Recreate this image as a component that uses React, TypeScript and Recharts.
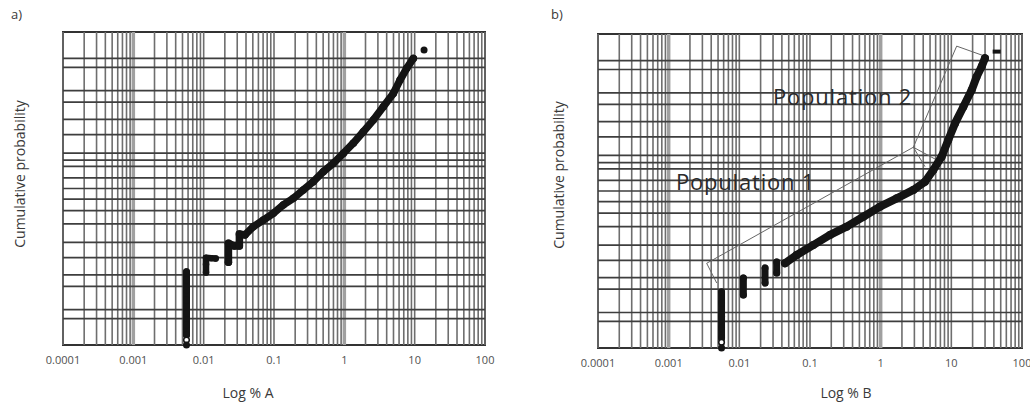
import React from 'react'
import { ComposedChart, Scatter, XAxis, YAxis, ReferenceLine, ReferenceArea } from 'recharts'

type Row = [number, number] // [value %, cumulative probability %]

// log x axis
const DECADES = [0.0001, 0.001, 0.01, 0.1, 1, 10, 100]
const DECADE_LABELS = ['0.0001', '0.001', '0.01', '0.1', '1', '10', '100']
const MANTISSAS = [2, 3, 4, 5, 6, 7, 8, 9]
const HEAVY_DECADES = [0.001, 1]

// probability grid (%)
const PROB_LINES = [0.1, 0.2, 1, 2, 5, 10, 20, 30, 40, 50, 60, 70, 75, 80, 90, 95, 98, 99, 99.8, 99.9]

// panel a
const A_DETECTION: Row[] = [[0.0057, 2.4], [0.0057, 1.5], [0.0057, 0.8], [0.0057, 0.4], [0.0057, 0.15], [0.0057, 0.06], [0.0057, 0.025]]
const A_STEP: Row[] = [[0.0108, 2.3], [0.0108, 3.6], [0.0108, 5.0], [0.0128, 4.9], [0.0148, 4.8]]
const A_CURVE: Row[] = [
  [0.0225, 4.0], [0.0225, 9.7], [0.027, 8.6], [0.0322, 8.6], [0.0322, 14.0], [0.0387, 13.5],
  [0.0508, 18.2], [0.0705, 22.7], [0.0977, 27.8], [0.1355, 34.8], [0.188, 40.8], [0.261, 48.6],
  [0.362, 56.4], [0.502, 65.5], [0.697, 72.5], [0.967, 79.8], [1.34, 85.9], [1.86, 91.1],
  [2.58, 94.8], [3.58, 97.4], [4.97, 98.8], [6.19, 99.5], [7.7, 99.785], [9.57, 99.9],
]
const A_OPEN: Row[] = [[0.0057, 0.016]]
const A_LOWEST: Row[] = [[0.0057, 0.01]]
const A_HIGHEST: Row[] = [[13.6, 99.95]]

// panel b
const B_DETECTION: Row[] = [[0.0056, 0.84], [0.0056, 0.4], [0.0056, 0.15], [0.0056, 0.06], [0.0056, 0.025]]
const B_STEP1: Row[] = [[0.0114, 0.69], [0.0114, 1.96]]
const B_STEP2: Row[] = [[0.0231, 1.46], [0.0231, 3.4]]
const B_STEP3: Row[] = [[0.0338, 2.6], [0.0338, 4.63]]
const B_CURVE: Row[] = [
  [0.0443, 4.34], [0.0648, 6.47], [0.111, 10.0], [0.192, 14.9], [0.33, 19.9], [0.568, 27.1],
  [0.977, 35.5], [1.69, 43.1], [2.9, 51.0], [4.24, 58.7], [5.56, 69.1], [7.29, 79.2],
  [9.06, 88.7], [11.3, 94.6], [14.8, 97.7], [19.4, 99.16], [22.8, 99.66], [26.9, 99.84], [29.9, 99.917],
]
const B_OPEN: Row[] = [[0.0056, 0.017]]
const B_LOWEST: Row[] = [[0.0056, 0.01]]
const B_HIGHEST: Row[] = [[43.8, 99.952]]
const B_POP1_OUTLINE: Row[] = [[0.00479, 1.46], [0.00345, 4.34], [2.9, 85.0], [4.24, 71.8]]
const B_POP2_OUTLINE: Row[] = [[6.21, 76.9], [2.9, 85.0], [11.9, 99.97], [31.6, 99.926]]

const FONT = '"Open Sans", "Noto Sans", sans-serif'
const INK = '#141414'

// inverse normal CDF (Acklam), takes a percentage
function probit(pct: number) {
  const p = pct / 100
  const a = [-39.69683028665376, 220.9460984245205, -275.9285104469687, 138.357751867269, -30.66479806614716, 2.506628277459239]
  const b = [-54.47609879822406, 161.5858368580409, -155.6989798598866, 66.80131188771972, -13.28068155288572]
  const c = [-0.007784894002430293, -0.3223964580411365, -2.400758277161838, -2.549671664352960, 4.374664141464968, 2.938163982698783]
  const d = [0.007784695709041462, 0.3224671290700398, 2.445134137142996, 3.754408661907416]
  const lo = 0.02425
  if (p < lo) {
    const q = Math.sqrt(-2 * Math.log(p))
    return (((((c[0] * q + c[1]) * q + c[2]) * q + c[3]) * q + c[4]) * q + c[5]) / ((((d[0] * q + d[1]) * q + d[2]) * q + d[3]) * q + 1)
  }
  if (p > 1 - lo) {
    const q = Math.sqrt(-2 * Math.log(1 - p))
    return -(((((c[0] * q + c[1]) * q + c[2]) * q + c[3]) * q + c[4]) * q + c[5]) / ((((d[0] * q + d[1]) * q + d[2]) * q + d[3]) * q + 1)
  }
  const q = p - 0.5
  const r = q * q
  return ((((((a[0] * r + a[1]) * r + a[2]) * r + a[3]) * r + a[4]) * r + a[5]) * q) / (((((b[0] * r + b[1]) * r + b[2]) * r + b[3]) * r + b[4]) * r + 1)
}

const Z_MAX = probit(99.99)
const X_GRID = DECADES.slice(0, -1).flatMap(d => MANTISSAS.map(m => m * d)).concat(DECADES)

const pts = (rows: Row[]) => rows.map(([x, p]) => ({ x, z: probit(p) }))

const dot = (r: number) => (props: any) => <circle cx={props.cx} cy={props.cy} r={r} fill={INK} />
const openDot = (props: any) => <circle cx={props.cx} cy={props.cy} r={2.8} fill="#fff" stroke={INK} strokeWidth={1.5} />
const dash = (props: any) => <rect x={props.cx - 4} y={props.cy - 2} width={8} height={4} fill={INK} />
const none = () => <g />

function Panel({ width, margin, strips, open, lowest, highest, highShape, outlines }: any) {
  return (
    <ComposedChart width={width} height={402} margin={margin}>
      <XAxis
        dataKey="x"
        type="number"
        scale="log"
        domain={[0.0001, 100]}
        ticks={DECADES}
        interval={0}
        tickFormatter={(v: number) => DECADE_LABELS[DECADES.indexOf(v)] ?? ''}
        tickLine={false}
        axisLine={false}
        tickMargin={5}
        height={30}
        tick={{ fill: '#505050', fontSize: 11, fontFamily: FONT }}
      />
      <YAxis dataKey="z" type="number" domain={[-Z_MAX, Z_MAX]} hide />
      {X_GRID.map(v => (
        <ReferenceLine key={'x' + v} x={v} stroke="#6e6e6e" strokeWidth={1.6} />
      ))}
      {HEAVY_DECADES.map(v => (
        <ReferenceLine key={'h' + v} x={v} stroke="#a0a0a0" strokeWidth={3.5} />
      ))}
      {PROB_LINES.map(p => (
        <ReferenceLine key={'y' + p} y={probit(p)} stroke="#3e3e3e" strokeWidth={1.7} />
      ))}
      <ReferenceArea x1={0.0001} x2={100} y1={-Z_MAX} y2={Z_MAX} fill="none" fillOpacity={0} stroke="#333" strokeWidth={2} />
      {(outlines || []).map((rows: Row[], i: number) => (
        <Scatter
          key={'o' + i}
          data={pts(rows)}
          shape={none}
          line={{ stroke: '#666', strokeWidth: 1 }}
          isAnimationActive={false}
        />
      ))}
      {strips.map(([rows, w]: [Row[], number], i: number) => (
        <Scatter
          key={'s' + i}
          data={pts(rows)}
          shape={dot(w / 2)}
          line={{ stroke: INK, strokeWidth: w, strokeLinecap: 'round', strokeLinejoin: 'round' }}
          isAnimationActive={false}
        />
      ))}
      <Scatter data={pts(open)} shape={openDot} isAnimationActive={false} />
      <Scatter data={pts(lowest)} shape={dot(3.5)} isAnimationActive={false} />
      <Scatter data={pts(highest)} shape={highShape} isAnimationActive={false} />
    </ComposedChart>
  )
}

const txt = (extra: React.CSSProperties): React.CSSProperties => ({
  position: 'absolute',
  whiteSpace: 'nowrap',
  fontFamily: FONT,
  color: '#3a3a3a',
  ...extra,
})

export default function App() {
  return (
    <div style={{ position: 'fixed', left: 0, top: 0, width: 1030, height: 402, background: '#fff' }}>
      <div style={{ position: 'absolute', left: 0, top: 0 }}>
        <Panel
          width={500}
          margin={{ top: 32, right: 15, left: 63, bottom: 27 }}
          strips={[[A_DETECTION, 7], [A_STEP, 6.5], [A_CURVE, 7.5]]}
          open={A_OPEN}
          lowest={A_LOWEST}
          highest={A_HIGHEST}
          highShape={dot(3.5)}
        />
      </div>
      <div style={{ position: 'absolute', left: 520, top: 0 }}>
        <Panel
          width={510}
          margin={{ top: 34, right: 8, left: 78, bottom: 24 }}
          strips={[[B_DETECTION, 7], [B_STEP1, 7], [B_STEP2, 7], [B_STEP3, 7], [B_CURVE, 8]]}
          open={B_OPEN}
          lowest={B_LOWEST}
          highest={B_HIGHEST}
          highShape={dash}
          outlines={[B_POP1_OUTLINE, B_POP2_OUTLINE]}
        />
      </div>

      <div style={txt({ left: 11, top: 5, fontSize: 13 })}>a)</div>
      <div style={txt({ left: 551, top: 5, fontSize: 13 })}>b)</div>

      <div style={txt({ left: 18.5, top: 174, fontSize: 14, transform: 'translate(-50%, -50%) rotate(-90deg)' })}>
        Cumulative probability
      </div>
      <div style={txt({ left: 557.5, top: 175, fontSize: 14, transform: 'translate(-50%, -50%) rotate(-90deg)' })}>
        Cumulative probability
      </div>

      <div style={txt({ left: 248, top: 383, fontSize: 14, transform: 'translateX(-50%)' })}>Log % A</div>
      <div style={txt({ left: 846, top: 383, fontSize: 14, transform: 'translateX(-50%)' })}>Log % B</div>

      <div style={txt({ left: 773, top: 81, fontSize: 22, letterSpacing: 0.8, color: '#2a2a2a' })}>Population 2</div>
      <div style={txt({ left: 676, top: 166, fontSize: 22, letterSpacing: 0.8, color: '#2a2a2a' })}>Population  1</div>
    </div>
  )
}
